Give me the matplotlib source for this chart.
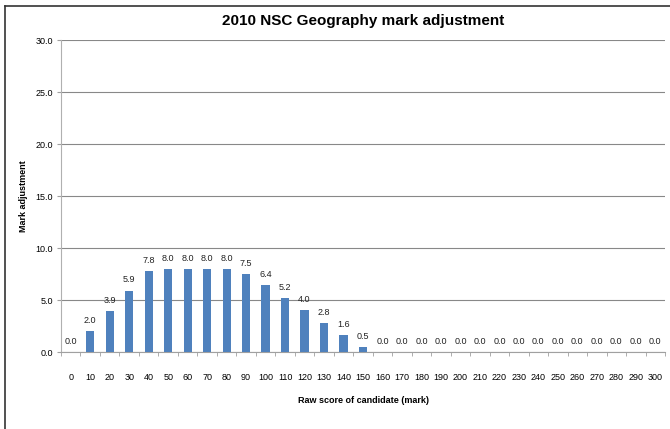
import matplotlib
matplotlib.use("Agg")
import matplotlib.pyplot as plt
from matplotlib.lines import Line2D

categories = [str(v) for v in range(0, 301, 10)]
values = [0.0, 2.0, 3.9, 5.9, 7.8, 8.0, 8.0, 8.0, 8.0, 7.5, 6.4, 5.2, 4.0, 2.8, 1.6, 0.5] + [0.0] * 15
yticks = [0, 5, 10, 15, 20, 25, 30]

plt.rcParams['font.family'] = ['Liberation Sans', 'DejaVu Sans']

W, H = 670, 429
fig = plt.figure(figsize=(W / 100, H / 100), dpi=100)
ax = fig.add_axes([61 / W, (H - 352) / H, (665 - 61) / W, (352 - 40) / H])

x = list(range(len(categories)))
ax.bar(x, values, width=0.42, color='#4f81bd', zorder=3)
for xi, v in zip(x, values):
    ax.text(xi, v + 0.6, f"{v:.1f}", ha='center', va='bottom', fontsize=6.5, color='#222222', zorder=4)

ax.set_xlim(-0.5, len(categories) - 0.5)
ax.set_ylim(0, 30)
ax.set_yticks(yticks)
ax.set_yticklabels([f"{t:.1f}" for t in yticks], fontsize=6.5)
ax.set_xticks(x)
ax.set_xticklabels(categories, fontsize=6.5)
ax.set_xticks([i - 0.5 for i in range(len(categories) + 1)], minor=True)
ax.tick_params(axis='x', which='major', length=0, pad=15)
ax.tick_params(axis='x', which='minor', length=3, color='#a0a0a0', direction='out')
ax.tick_params(axis='y', length=3, color='#a0a0a0', direction='out', pad=3)
ax.yaxis.grid(True, color='#888888', linewidth=0.8, zorder=0)
for s in ['top', 'right']:
    ax.spines[s].set_visible(False)
ax.spines['left'].set_color('#b0b0b0')
ax.spines['bottom'].set_color('#a0a0a0')

ax.set_title("2010 NSC Geography mark adjustment", fontsize=11, fontweight='bold', pad=11)
ax.set_xlabel("Raw score of candidate (mark)", fontsize=6.5, fontweight='bold', labelpad=10)
ax.set_ylabel("Mark adjustment", fontsize=6.5, fontweight='bold', labelpad=5)

fig.add_artist(Line2D([5 / W, 5 / W], [0, (H - 6) / H], color='#333333', linewidth=1.2, transform=fig.transFigure))
fig.add_artist(Line2D([5 / W, 1], [(H - 6) / H, (H - 6) / H], color='#333333', linewidth=1.2, transform=fig.transFigure))

fig.savefig("out.png", dpi=100)
